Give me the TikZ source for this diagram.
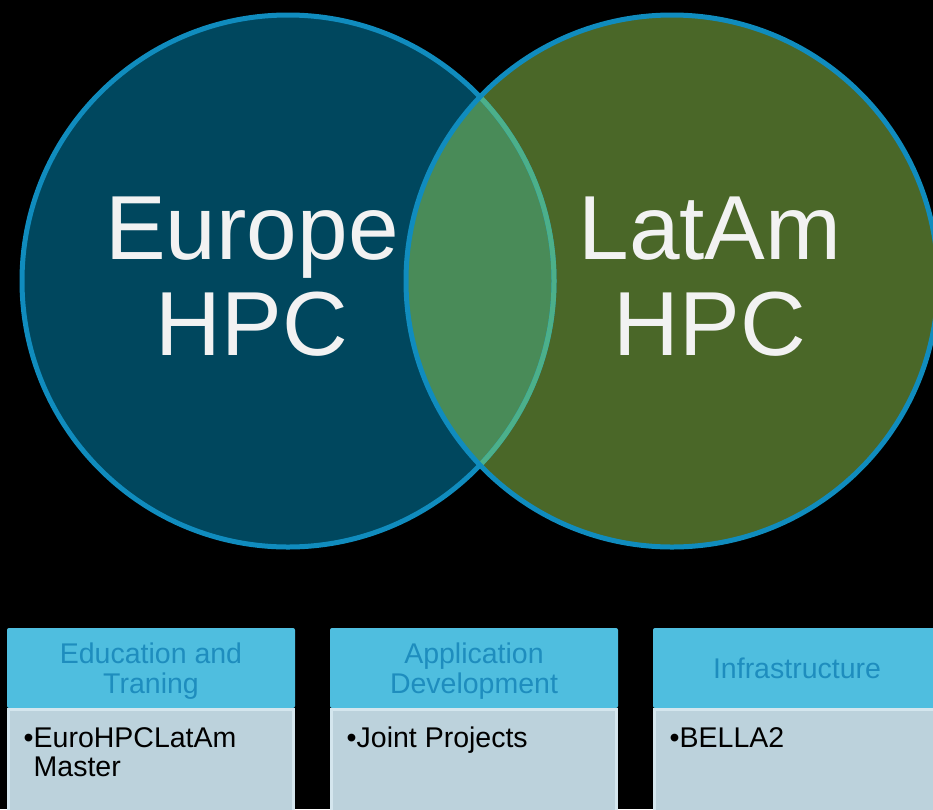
\documentclass[tikz,border=0pt]{standalone}
\usepackage{fontspec}
\setmainfont{Liberation Sans}
\usetikzlibrary{positioning}

\definecolor{eurofill}{RGB}{0,71,94}
\definecolor{latamfill}{RGB}{74,103,40}
\definecolor{lensfill}{RGB}{73,139,88}
\definecolor{ringblue}{RGB}{16,140,190}
\definecolor{ringgreen}{RGB}{76,176,138}
\definecolor{headfill}{RGB}{79,190,223}
\definecolor{headtext}{RGB}{30,141,190}
\definecolor{bodyfill}{RGB}{188,210,220}
\definecolor{bodyline}{RGB}{212,230,238}
\definecolor{vennwhite}{RGB}{242,242,242}

\tikzset{
  venn/.style={circle,inner sep=0pt,outer sep=0pt,minimum size=532pt},
  ring/.style={line width=5pt},
  bigtext/.style={align=center,inner sep=0pt,text=vennwhite,
    font=\fontsize{91}{96}\selectfont},
  headbox/.style={rectangle,rounded corners=2pt,fill=headfill,text=headtext,
    align=center,inner sep=0pt,outer sep=0pt,minimum width=288pt,
    minimum height=80pt,text depth=0pt,font=\fontsize{28.5}{30}\selectfont},
  bodybox/.style={rectangle,fill=bodyfill,draw=bodyline,line width=3pt,
    inner sep=0pt,outer sep=0pt,minimum width=285pt,minimum height=110pt},
  itemtext/.style={align=left,inner sep=0pt,anchor=north west,text=black,
    font=\fontsize{28.5}{29.5}\selectfont}
}

\begin{document}
\begin{tikzpicture}[x=1pt,y=-1pt]
\fill[black] (0,0) rectangle (933,809);
\useasboundingbox (0,0) rectangle (933,809);

% the two circles
\node[venn,fill=eurofill] (europe) at (288,281) {};
\node[venn,fill=latamfill] (latam) at (672,281) {};
\begin{scope}
  \clip (europe.center) circle (266pt);
  \fill[lensfill] (latam.center) circle (266pt);
\end{scope}
\draw[ring,ringblue] (europe.center) circle (266pt);
\begin{scope}
  \clip (latam.center) circle (266pt);
  \draw[ring,ringgreen] (europe.center) circle (266pt);
\end{scope}
\draw[ring,ringblue] (latam.center) circle (266pt);

\node[bigtext] (europetext) at (252,277) {Europe\\HPC};
\node[bigtext] (latamtext) at (710,277) {LatAm\\HPC};

% the three boxes
\node[headbox] (edu) at (151,668) {Education and\\Traning};
\node[headbox,right=35pt of edu] (app) {Application\\Development};
\node[headbox,right=35pt of app] (infra) {Infrastructure};

\node[bodybox,below=1.5pt of edu] (edubody) {};
\node[bodybox,below=1.5pt of app] (appbody) {};
\node[bodybox,below=1.5pt of infra] (infrabody) {};

\node[itemtext] (eduitem) at ([xshift=15pt,yshift=-17.5pt]edubody.north west)
  {•EuroHPCLatAm\\\phantom{•}Master};
\node[itemtext] (appitem) at ([xshift=15pt,yshift=-17.5pt]appbody.north west)
  {•Joint Projects};
\node[itemtext] (infraitem) at ([xshift=15pt,yshift=-17.5pt]infrabody.north west)
  {•BELLA2};
\end{tikzpicture}
\end{document}
